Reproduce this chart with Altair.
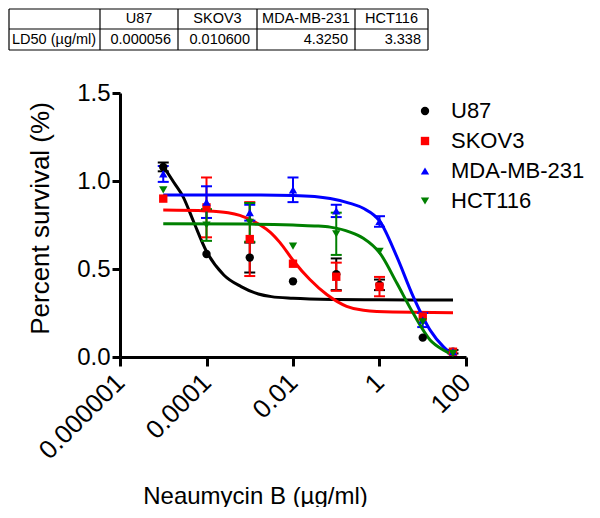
import altair as alt
import pandas as pd

# ---------------- data ----------------
series = ["U87", "SKOV3", "MDA-MB-231", "HCT116"]
colors = ["#000000", "#ff0000", "#0000ff", "#008000"]
shapes = ["circle", "square", "triangle-up", "triangle-down"]

conc = [1e-5, 1e-4, 1e-3, 1e-2, 1e-1, 1, 10, 50]
u87_mean = [1.08, 0.585, 0.565, 0.43, 0.47, 0.41, 0.11, 0.03]
u87_err = [0.025, 0.0, 0.085, 0.0, 0.09, 0.03, 0.0, 0.01]
skov3_mean = [0.90, 0.85, 0.67, 0.53, 0.456, 0.40, 0.23, 0.03]
skov3_err = [0.0, 0.17, 0.21, 0.0, 0.08, 0.055, 0.0, 0.0]
mda_mean = [1.04, 0.88, 0.82, 0.95, 0.83, 0.77, 0.21, 0.03]
mda_err = [0.045, 0.09, 0.045, 0.07, 0.035, 0.03, 0.04, 0.0]
hct_mean = [0.95, 0.75, 0.765, 0.63, 0.70, 0.60, 0.20, 0.02]
hct_err = [0.0, 0.09, 0.11, 0.0, 0.12, 0.0, 0.0, 0.0]

# fitted curves (log10 concentration, survival)
u87_fit_logx = [-5.0, -4.75, -4.54, -4.3, -4.0, -3.6, -3.2, -2.8, -2.5, -2.0, -1.0, 0.0, 1.7]
u87_fit = [1.085, 0.99, 0.91, 0.77, 0.60, 0.466, 0.40, 0.358, 0.343, 0.334, 0.327, 0.325, 0.324]
skov3_fit_logx = [-5.0, -4.0, -3.5, -3.23, -2.76, -2.53, -2.3, -2.0, -1.61, -1.22, -0.76, -0.37, 0.3, 1.7]
skov3_fit = [0.835, 0.83, 0.82, 0.805, 0.75, 0.71, 0.65, 0.55, 0.44, 0.355, 0.288, 0.265, 0.255, 0.252]
mda_fit_logx = [-5.0, -3.0, -2.0, -1.5, -1.14, -0.68, -0.375, 0.01, 0.4, 0.78, 1.17, 1.475, 1.7]
mda_fit = [0.92, 0.92, 0.918, 0.912, 0.90, 0.873, 0.845, 0.77, 0.57, 0.343, 0.153, 0.059, 0.012]
hct_fit_logx = [-5.0, -3.0, -2.0, -1.5, -1.14, -0.68, -0.375, 0.01, 0.4, 0.78, 1.17, 1.475, 1.7]
hct_fit = [0.757, 0.755, 0.75, 0.745, 0.738, 0.71, 0.675, 0.59, 0.42, 0.248, 0.097, 0.04, 0.011]

x_ticks = [1e-6, 1e-4, 1e-2, 1, 100]
y_ticks = [0, 0.5, 1.0, 1.5]

table_header = ["", "U87", "SKOV3", "MDA-MB-231", "HCT116"]
table_row_label = "LD50 (\u00b5g/ml)"
table_ld50 = ["0.000056", "0.010600", "4.3250", "3.338"]

x_title = "Neaumycin B (\u00b5g/ml)"
y_title = "Percent survival (%)"

# ---------------- tables for the library ----------------
means = [u87_mean, skov3_mean, mda_mean, hct_mean]
errs = [u87_err, skov3_err, mda_err, hct_err]
fits = [(u87_fit_logx, u87_fit), (skov3_fit_logx, skov3_fit),
        (mda_fit_logx, mda_fit), (hct_fit_logx, hct_fit)]

pts_rows, err_rows, fit_rows = [], [], []
for s, m, e in zip(series, means, errs):
    for c, mv, ev in zip(conc, m, e):
        pts_rows.append({"series": s, "conc": c, "mean": mv})
        if ev > 0:
            err_rows.append({"series": s, "conc": c, "lo": mv - ev, "hi": mv + ev})
for s, (lx, v) in zip(series, fits):
    for a, b in zip(lx, v):
        fit_rows.append({"series": s, "conc": 10 ** a, "value": b})

pts_df = pd.DataFrame(pts_rows)
err_df = pd.DataFrame(err_rows)
fit_df = pd.DataFrame(fit_rows)

FONT = "Liberation Sans"

color_scale = alt.Scale(domain=series, range=colors)
shape_scale = alt.Scale(domain=series, range=shapes)
x_scale = alt.Scale(type="log", domain=[1e-6, 100], nice=False)
y_scale = alt.Scale(domain=[0, 1.5], nice=False)

x_axis = alt.Axis(values=x_ticks, format="~f", labelAngle=-45, labelAlign="right",
                  labelBaseline="middle", labelPadding=12, tickSize=9, labelFontSize=26,
                  title=x_title, titleX=135, titleY=146, titleBaseline="alphabetic",
                  titleAlign="center", titleFontSize=24)
y_axis = alt.Axis(values=y_ticks, format=".1f", tickSize=8, labelPadding=2,
                  title=y_title, titleAngle=-90, titleX=-80, titleY=125,
                  titleAlign="center", titleBaseline="middle", titleFontSize=26)

legend = alt.Legend(title=None, orient="none", legendX=294, legendY=7,
                    labelFontSize=22, labelFont=FONT, labelColor="black", symbolSize=70,
                    labelOffset=15, rowPadding=8, symbolStrokeWidth=0,
                    symbolOpacity=1, padding=0, labelLimit=300)

X = alt.X("conc:Q", scale=x_scale, axis=x_axis)

layers = []
for i, (s, col) in enumerate(zip(series, colors)):
    fd = fit_df[fit_df["series"] == s]
    ed = err_df[err_df["series"] == s]
    y_enc = alt.Y("value:Q", scale=y_scale, axis=y_axis) if i == 0 else alt.Y("value:Q", scale=y_scale)
    layers.append(alt.Chart(fd).mark_line(strokeWidth=3, interpolate="monotone", color=col).encode(
        x=X, y=y_enc))
    if len(ed):
        layers.append(alt.Chart(ed).mark_rule(strokeWidth=2, color=col).encode(
            x=X, y=alt.Y("lo:Q", scale=y_scale), y2="hi:Q"))
        layers.append(alt.Chart(ed).mark_tick(orient="horizontal", size=11, thickness=2,
                                              opacity=1, color=col).encode(
            x=X, y=alt.Y("lo:Q", scale=y_scale)))
        layers.append(alt.Chart(ed).mark_tick(orient="horizontal", size=11, thickness=2,
                                              opacity=1, color=col).encode(
            x=X, y=alt.Y("hi:Q", scale=y_scale)))

points = alt.Chart(pts_df).mark_point(filled=True, size=70, opacity=1).encode(
    x=X, y=alt.Y("mean:Q", scale=y_scale),
    color=alt.Color("series:N", scale=color_scale, legend=legend),
    shape=alt.Shape("series:N", scale=shape_scale, legend=legend),
)
layers.append(points)

main = alt.layer(*layers)

# ---------------- LD50 table ----------------
col_edges = [0, 91, 169, 248, 346, 419]
row_edges = [0, 20, 41]
grid_rows = []
for yv in row_edges:
    grid_rows.append({"x": col_edges[0], "x2": col_edges[-1], "y": yv, "y2": yv})
for xv in col_edges:
    grid_rows.append({"x": xv, "x2": xv, "y": row_edges[0], "y2": row_edges[-1]})
grid_df = pd.DataFrame(grid_rows)

hdr_df = pd.DataFrame({
    "x": [(col_edges[i] + col_edges[i + 1]) / 2 for i in range(1, 5)],
    "y": [(row_edges[0] + row_edges[1]) / 2] * 4,
    "t": table_header[1:],
})
lbl_df = pd.DataFrame({"x": [col_edges[0] + 3], "y": [(row_edges[1] + row_edges[2]) / 2],
                       "t": [table_row_label]})
val_df = pd.DataFrame({
    "x": [col_edges[i + 1] - 7 for i in range(1, 5)],
    "y": [(row_edges[1] + row_edges[2]) / 2] * 4,
    "t": table_ld50,
})

tx = alt.Scale(domain=[0, 419], range=[-111, 308])
ty = alt.Scale(domain=[0, 41], range=[-84, -43])

grid = alt.Chart(grid_df).mark_rule(color="black", strokeWidth=1.2).encode(
    x=alt.X("x:Q", scale=tx, axis=None), x2="x2:Q",
    y=alt.Y("y:Q", scale=ty, axis=None), y2="y2:Q",
)
txt_kw = dict(font=FONT, fontSize=14.5, color="black", baseline="middle")
hdr = alt.Chart(hdr_df).mark_text(align="center", **txt_kw).encode(
    x=alt.X("x:Q", scale=tx, axis=None), y=alt.Y("y:Q", scale=ty, axis=None), text="t:N")
lbl = alt.Chart(lbl_df).mark_text(align="left", **txt_kw).encode(
    x=alt.X("x:Q", scale=tx, axis=None), y=alt.Y("y:Q", scale=ty, axis=None), text="t:N")
val = alt.Chart(val_df).mark_text(align="right", **txt_kw).encode(
    x=alt.X("x:Q", scale=tx, axis=None), y=alt.Y("y:Q", scale=ty, axis=None), text="t:N")

table = alt.layer(grid, hdr, lbl, val)

chart = alt.layer(main, table).resolve_scale(x="independent", y="independent").properties(
    width=346, height=264,
    autosize=alt.AutoSizeParams(type="none"),
    padding={"left": 112, "top": 85, "right": 126, "bottom": 150},
).configure_view(stroke=None).configure_axis(
    domainColor="black", domainWidth=3, tickColor="black", tickWidth=3,
    labelFont=FONT, labelFontSize=24, labelColor="black",
    titleFont=FONT, titleFontWeight="normal", titleColor="black", grid=False,
)

chart.save("out.html", embed_options={"renderer": "svg", "actions": False})
